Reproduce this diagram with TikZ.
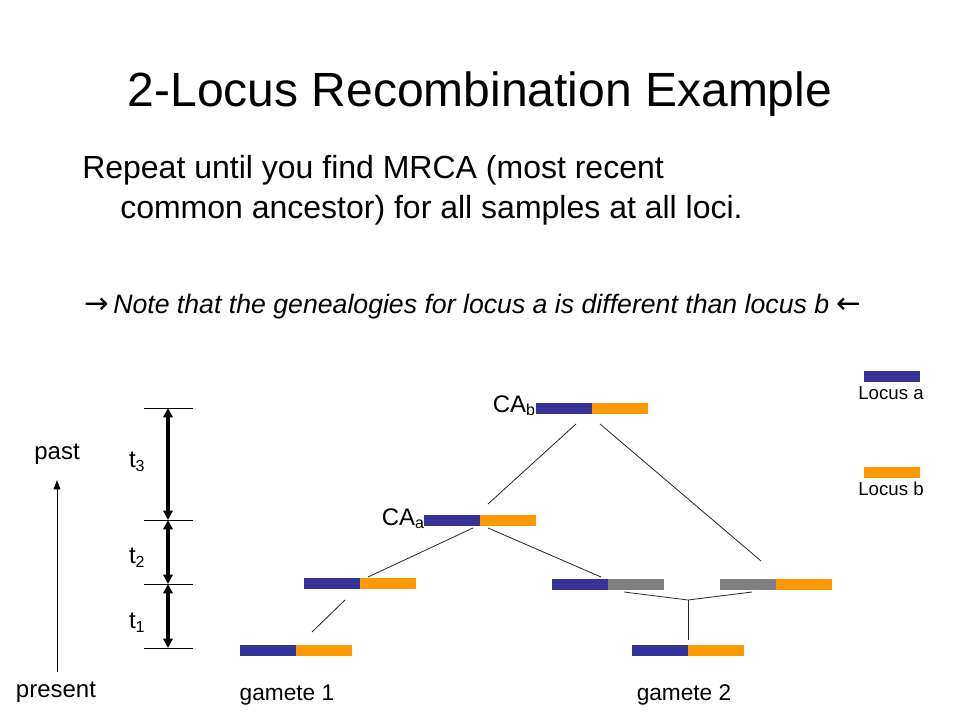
\documentclass[tikz,border=0pt]{standalone}
\usepackage{fontspec}
\setmainfont{Liberation Sans}
\newfontfamily\symfont{DejaVu Sans}
\usetikzlibrary{arrows.meta}
\definecolor{locA}{HTML}{333399}
\definecolor{locB}{HTML}{FF9900}
\definecolor{locG}{HTML}{808080}
\newcommand{\lowsub}[2]{\raisebox{-#1}{\fontsize{12}{14}\selectfont #2}}
\begin{document}
\begin{tikzpicture}[x=0.75pt,y=-0.75pt,
  seg/.style={rectangle,inner sep=0pt,outer sep=0pt,minimum width=42pt,minimum height=8.25pt,draw=none},
  sega/.style={seg,fill=locA},
  segb/.style={seg,fill=locB},
  segg/.style={seg,fill=locG},
  txt/.style={inner sep=0pt,outer sep=0pt,font=\fontsize{18}{21}\selectfont},
  link/.style={line width=0.6pt,draw=black!85},
  tick/.style={line width=0.6pt},
  span/.style={line width=2.4pt,{Triangle[length=7pt,width=7pt]}-{Triangle[length=7pt,width=7pt]}},
]
\useasboundingbox (0,0) rectangle (960,720);
\fill[white] (0,0) rectangle (960,720);

% title and text
\node[inner sep=0pt,anchor=base,font=\fontsize{36}{43}\selectfont] (title) at (480,107) {2-Locus Recombination Example};
\node[inner sep=0pt,anchor=base west,font=\fontsize{24}{29}\selectfont] (l1) at (82,179) {Repeat until you find MRCA (most recent};
\node[inner sep=0pt,anchor=base west,font=\fontsize{24}{29}\selectfont] (l2) at (120,219) {common ancestor) for all samples at all loci.};
\node[inner sep=0pt,anchor=base west,font=\fontsize{20}{24}\selectfont] (note) at (84,314) {{\symfont\fontsize{22}{24}\selectfont →}\,\textit{Note that the genealogies for locus a is different than locus b} {\symfont\fontsize{22}{24}\selectfont ←}};

% bars
\node[sega] (g1a) at (268,650.5) {};
\node[segb] (g1b) at (324,650.5) {};
\node[sega] (la) at (332,583.5) {};
\node[segb] (lb) at (388,583.5) {};
\node[sega] (caa) at (452,520.5) {};
\node[segb] (cab) at (508,520.5) {};
\node[sega] (cba) at (564,408.5) {};
\node[segb] (cbb) at (620,408.5) {};
\node[sega] (ma) at (580,584.5) {};
\node[segg] (mg) at (636,584.5) {};
\node[segg] (rg) at (748,584.5) {};
\node[segb] (rb) at (804,584.5) {};
\node[sega] (g2a) at (660,650.5) {};
\node[segb] (g2b) at (716,650.5) {};
\node[sega] (lega) at (892,376.5) {};
\node[segb] (legb) at (892,472.5) {};

% labels
\node[txt,anchor=base,font=\fontsize{14}{16}\selectfont] (lta) at (891,399) {Locus a};
\node[txt,anchor=base,font=\fontsize{14}{16}\selectfont] (ltb) at (891,495) {Locus b};
\node[txt,anchor=base east] (cbl) at (535,412) {CA\lowsub{2.5pt}{b}};
\node[txt,anchor=base east] (cal) at (424,525) {CA\lowsub{2.5pt}{a}};
\node[txt,anchor=base,font=\fontsize{17}{20}\selectfont] (gm1) at (287,700) {gamete 1};
\node[txt,anchor=base,font=\fontsize{17}{20}\selectfont] (gm2) at (684,700) {gamete 2};
\node[txt,anchor=base] (past) at (57,459) {past};
\node[txt,anchor=base] (pres) at (56,697) {present};
\node[txt,anchor=base west] (t3) at (129,467) {t\lowsub{3.5pt}{3}};
\node[txt,anchor=base west] (t2) at (129,563) {t\lowsub{3.5pt}{2}};
\node[txt,anchor=base west] (t1) at (129,628) {t\lowsub{3.5pt}{1}};

% time scale
\coordinate (h3l) at (144,408); \coordinate (h3r) at (193,408);
\coordinate (h2l) at (144,520); \coordinate (h2r) at (193,520);
\coordinate (h1l) at (144,584); \coordinate (h1r) at (193,584);
\coordinate (h0l) at (144,648); \coordinate (h0r) at (193,648);
\coordinate (a3) at (168,408); \coordinate (a2) at (168,520);
\coordinate (a1) at (168,584); \coordinate (a0) at (168,648);
\draw[tick] (h3l) -- (h3r);
\draw[tick] (h2l) -- (h2r);
\draw[tick] (h1l) -- (h1r);
\draw[tick] (h0l) -- (h0r);
\draw[span] (a3) -- (a2);
\draw[span] (a2) -- (a1);
\draw[span] (a1) -- (a0);

% past arrow
\coordinate (pb) at (57,672); \coordinate (pt) at (57,480);
\draw[line width=0.75pt,-{Triangle[length=7pt,width=5pt]}] (pb) -- (pt);

% connectors
\coordinate (c1a) at (312,632); \coordinate (c1b) at (345,600);
\coordinate (c2a) at (368,577); \coordinate (c2b) at (473,528);
\coordinate (c3a) at (488,528); \coordinate (c3b) at (601,577);
\coordinate (c4a) at (488,504); \coordinate (c4b) at (576,424);
\coordinate (c5a) at (600,424); \coordinate (c5b) at (761,561);
\coordinate (j1) at (624,592); \coordinate (j2) at (752,592);
\coordinate (jm) at (688,600); \coordinate (jb) at (688,640);
\draw[link] (c1a) -- (c1b);
\draw[link] (c2a) -- (c2b);
\draw[link] (c3a) -- (c3b);
\draw[link] (c4a) -- (c4b);
\draw[link] (c5a) -- (c5b);
\draw[link] (j1) -- (jm) -- (j2);
\draw[link] (jm) -- (jb);
\end{tikzpicture}
\end{document}
